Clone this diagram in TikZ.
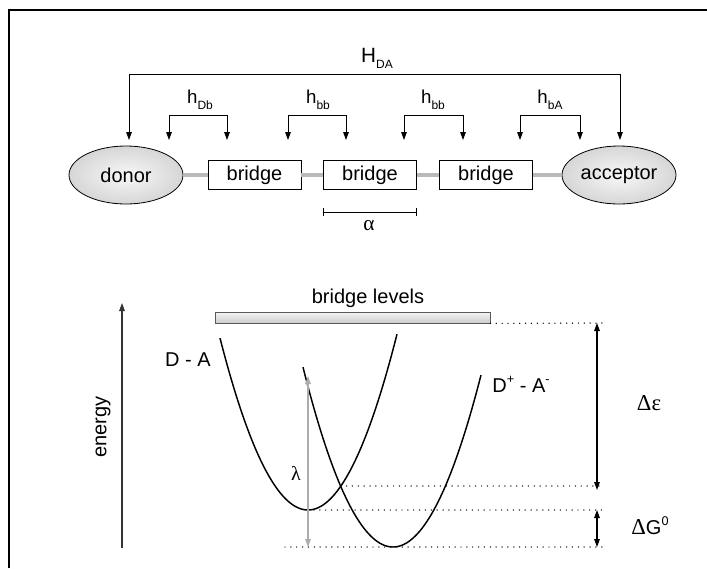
\documentclass[tikz,border=0pt]{standalone}
\usepackage{fontspec}
\setmainfont{Liberation Sans}
\newfontfamily\grk{Liberation Serif}
\usetikzlibrary{arrows.meta,shapes.geometric,calc}
\newcommand\lowsub[1]{\raisebox{-0.55ex}{\fontsize{9}{10}\selectfont #1}}
\newcommand\highsup[1]{\raisebox{0.85ex}{\fontsize{9.5}{10}\selectfont #1}}
\begin{document}
\begin{tikzpicture}[x=0.75pt,y=-0.75pt,
  tip/.style={-{Triangle[length=6pt,width=4.2pt]}},
  twotip/.style={{Triangle[length=6pt,width=4.2pt]}-{Triangle[length=6pt,width=4.2pt]}},
  ell/.style={ellipse, draw, line width=0.6pt, minimum width=85.5pt, minimum height=43.5pt,
    inner sep=0pt, inner color=gray!6, outer color=gray!32, font=\fontsize{15}{17}\selectfont},
  bridgebox/.style={rectangle, draw, line width=0.6pt, fill=white, minimum width=69.75pt,
    minimum height=21.75pt, inner sep=0pt, font=\fontsize{15}{17}\selectfont},
  link/.style={line width=2.4pt, draw=gray!55},
  coupling/.style={twotip, line width=0.7pt},
  lbl/.style={font=\fontsize{15}{17}\selectfont, inner sep=0pt},
  curve/.style={line width=1.1pt},
  dots/.style={line width=1.1pt, line cap=round, dash pattern=on 0pt off 4.4pt},
  gap/.style={twotip, line width=0.8pt}]
\useasboundingbox (0,0) rectangle (707,568);
% frame
\draw[line width=1pt] (9,568) -- (9,10) -- (707,10);

% ---------- top part ----------
\node[ell] (donor) at (126,175) {donor};
\node[bridgebox] (b1) at (254.5,175) {bridge};
\node[bridgebox] (b2) at (370,175) {bridge};
\node[bridgebox] (b3) at (486,175) {bridge};
\node[ell] (acc) at (619,175) {acceptor};
\draw[link] (donor.east) -- (b1.west);
\draw[link] (b1.east) -- (b2.west);
\draw[link] (b2.east) -- (b3.west);
\draw[link] (b3.east) -- (acc.west);

% H_DA
\coordinate (hda1) at (129,140);
\coordinate (hda2) at (620,140);
\draw[coupling] (hda1) -- (129,74) -| (hda2);
\node[lbl, font=\fontsize{15.5}{17}\selectfont] (hDA) at (377,58) {H\lowsub{DA}};

% small couplings
\coordinate (c1a) at (169,140); \coordinate (c1b) at (227,140);
\coordinate (c2a) at (288,140); \coordinate (c2b) at (346,140);
\coordinate (c3a) at (404,140); \coordinate (c3b) at (463,140);
\coordinate (c4a) at (520,140); \coordinate (c4b) at (580,140);
\draw[coupling] (c1a) -- ++(0,-25) -| (c1b);
\draw[coupling] (c2a) -- ++(0,-25) -| (c2b);
\draw[coupling] (c3a) -- ++(0,-25) -| (c3b);
\draw[coupling] (c4a) -- ++(0,-25) -| (c4b);
\node[lbl, font=\fontsize{14}{16}\selectfont] (l1) at (200,100) {h\lowsub{Db}};
\node[lbl, font=\fontsize{14}{16}\selectfont] (l2) at (318,100) {h\lowsub{bb}};
\node[lbl, font=\fontsize{14}{16}\selectfont] (l3) at (433,100) {h\lowsub{bb}};
\node[lbl, font=\fontsize{14}{16}\selectfont] (l4) at (550,100) {h\lowsub{bA}};

% alpha scale
\coordinate (al1) at (323,212);
\coordinate (al2) at (416,212);
\draw[line width=0.7pt] (al1) -- (al2);
\draw[line width=0.7pt] ($(al1)+(0,-4)$) -- ($(al1)+(0,4)$);
\draw[line width=0.7pt] ($(al2)+(0,-4)$) -- ($(al2)+(0,4)$);
\node[lbl, font=\grk\fontsize{16}{17}\selectfont] (alpha) at (369,226) {α};

% ---------- bottom part ----------
\node[rectangle, draw=gray!70!black, line width=0.6pt, top color=gray!8, bottom color=gray!40,
  minimum width=206.25pt, minimum height=8.25pt, inner sep=0pt] (blev) at (352.5,317.5) {};
\node[lbl] (blevl) at (368,298) {bridge levels};

% energy axis
\coordinate (e0) at (122,548);
\coordinate (e1) at (122,303);
\draw[tip, line width=0.8pt, draw=gray!40!black] (e0) -- (e1);
\node[lbl, rotate=90] (energy) at (103,427) {energy};

% parabolas
\draw[curve] plot[domain=220:397, samples=80, smooth] (\x, {510 - 0.0222*(\x-308)^2});
\draw[curve] plot[domain=303:481, samples=80, smooth] (\x, {547 - 0.0222*(\x-393)^2});
\node[lbl] (DA) at (188,360) {D - A};
\node[lbl] (DpAm) at (521,384) {D\highsup{+} - A\highsup{-}};

% levels
\coordinate (cross) at (340.7,486);
\coordinate (min1) at (314,510);
\coordinate (rt) at (603,323);
\coordinate (rc) at (603,486);
\coordinate (r1) at (603,510);
\coordinate (r2) at (603,547);
\coordinate (lb) at (285,547);
\draw[dots] (blev.south east) -- (rt);
\draw[dots] (cross) -- (rc);
\draw[dots] (min1) -- (r1);
\draw[dots] (lb) -- (r2);

% lambda
\coordinate (lam0) at (308,547);
\coordinate (lam1) at (308,376);
\draw[twotip, line width=0.8pt, draw=gray!65, fill=gray!30!black] (lam0) -- (lam1);
\node[lbl, font=\grk\fontsize{15}{16}\selectfont] (lam) at (296,473) {λ};

% gaps
\coordinate (de0) at (597,323);
\coordinate (de1) at (597,490);
\coordinate (dg0) at (597,510);
\coordinate (dg1) at (597,547);
\draw[gap] (de0) -- (de1);
\draw[gap] (dg0) -- (dg1);
\node[lbl, font=\grk\fontsize{17}{18}\selectfont] (deps) at (649,403) {Δε};
\node[lbl] (dG) at (650,526) {{\grk\fontsize{17}{18}\selectfont Δ}G\highsup{0}};
\end{tikzpicture}
\end{document}
